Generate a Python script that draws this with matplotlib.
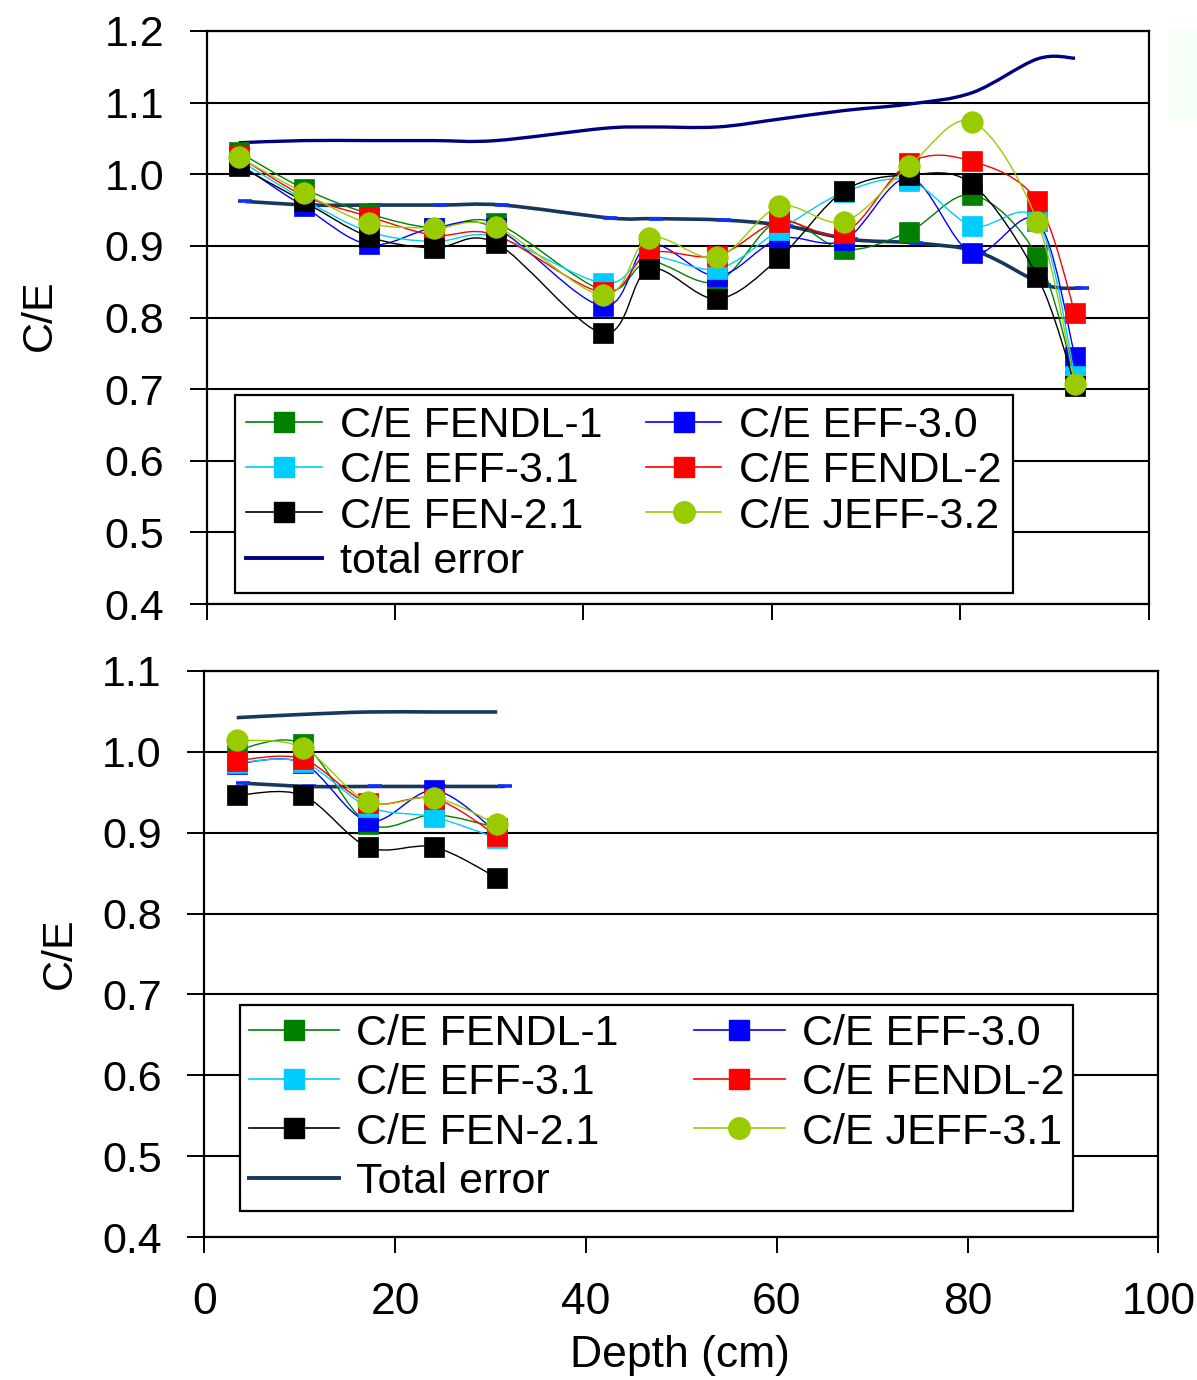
import numpy as np
import matplotlib
matplotlib.use("Agg")
import matplotlib.pyplot as plt
from matplotlib.path import Path
from matplotlib.patches import PathPatch, Rectangle
from matplotlib.lines import Line2D
from matplotlib.ticker import FormatStrFormatter
from matplotlib import font_manager

# ---------------- data ----------------
# upper panel: full-depth assembly
depth_top = [3.4, 10.3, 17.2, 24.1, 30.7, 42.1, 47.0, 54.2, 60.8, 67.7, 74.6, 81.3, 88.2, 92.2]
fendl1_top = [1.031, 0.980, 0.945, 0.925, 0.932, 0.838, 0.878, 0.850, 0.935, 0.895, 0.920, 0.971, 0.885, 0.712]
eff30_top = [1.015, 0.955, 0.902, 0.925, 0.925, 0.816, 0.902, 0.858, 0.910, 0.908, 0.995, 0.890, 0.935, 0.745]
eff31_top = [1.020, 0.965, 0.920, 0.906, 0.913, 0.848, 0.885, 0.868, 0.922, 0.975, 0.991, 0.928, 0.935, 0.718]
fendl2_top = [1.025, 0.970, 0.941, 0.915, 0.915, 0.835, 0.890, 0.886, 0.934, 0.918, 1.016, 1.018, 0.962, 0.806]
fen21_top = [1.012, 0.962, 0.913, 0.897, 0.904, 0.778, 0.868, 0.826, 0.883, 0.977, 0.999, 0.986, 0.857, 0.705]
jeff32_top = [1.024, 0.974, 0.932, 0.925, 0.927, 0.831, 0.911, 0.884, 0.955, 0.934, 1.012, 1.073, 0.934, 0.707]
err_hi_top = [1.044, 1.047, 1.047, 1.047, 1.047, 1.064, 1.066, 1.066, 1.077, 1.089, 1.098, 1.114, 1.161, 1.162]
depth_err_lo_top = [4.1, 11.0, 17.9, 24.8, 31.4, 42.8, 47.7, 54.9, 61.5, 68.4, 75.3, 82.0, 88.9, 92.9]
err_lo_top = [0.962, 0.957, 0.957, 0.957, 0.957, 0.939, 0.938, 0.936, 0.928, 0.909, 0.904, 0.891, 0.846, 0.841]

# lower panel: first five positions
depth_bot = [3.4, 10.3, 17.2, 24.1, 30.7]
fendl1_bot = [1.002, 1.009, 0.911, 0.922, 0.906]
eff30_bot = [0.985, 0.986, 0.914, 0.952, 0.900]
eff31_bot = [0.986, 0.987, 0.932, 0.919, 0.893]
fendl2_bot = [0.989, 0.991, 0.937, 0.942, 0.896]
fen21_bot = [0.946, 0.946, 0.882, 0.882, 0.844]
jeff31_bot = [1.014, 1.005, 0.938, 0.943, 0.910]
err_hi_bot = [1.042, 1.046, 1.049, 1.049, 1.049]
depth_err_lo_bot = [4.1, 11.0, 17.9, 24.6, 31.5]
err_lo_bot = [0.961, 0.957, 0.957, 0.957, 0.957]

labels_top = ["C/E FENDL-1", "C/E EFF-3.0", "C/E EFF-3.1", "C/E FENDL-2", "C/E FEN-2.1", "C/E JEFF-3.2", "total error"]
labels_bot = ["C/E FENDL-1", "C/E EFF-3.0", "C/E EFF-3.1", "C/E FENDL-2", "C/E FEN-2.1", "C/E JEFF-3.1", "Total error"]
x_ticks = [0, 20, 40, 60, 80, 100]

# ---------------- style ----------------
GREEN, BLUE, CYAN, RED, BLACK, LIME = "#008000", "#0000ff", "#00ccff", "#ff0000", "#000000", "#99cc00"
NAVY, SLATE = "#000080", "#17375e"
SERIES_STYLE = [(GREEN, "s"), (BLUE, "s"), (CYAN, "s"), (RED, "s"), (BLACK, "s"), (LIME, "o")]


def pick_font(names):
    for n in names:
        try:
            font_manager.findfont(n, fallback_to_default=False)
            return n
        except Exception:
            continue
    return "DejaVu Sans"


BASE = pick_font(["Liberation Sans", "Arial"])
plt.rcParams["font.family"] = [BASE, "DejaVu Sans"]


def smooth_path(x, y):
    """Cubic Bezier path through the points (spreadsheet-style smoothed line)."""
    pts = np.column_stack([x, y]).astype(float)
    n = len(pts)
    verts = [pts[0]]
    codes = [Path.MOVETO]
    for i in range(n - 1):
        p0 = pts[max(i - 1, 0)]
        p1 = pts[i]
        p2 = pts[i + 1]
        p3 = pts[min(i + 2, n - 1)]
        verts += [p1 + (p2 - p0) / 6.0, p2 - (p3 - p1) / 6.0, p2]
        codes += [Path.CURVE4] * 3
    return Path(verts, codes)


def draw_series(ax, x, y, color, marker, z):
    ax.add_patch(PathPatch(smooth_path(x, y), facecolor="none", edgecolor=color, lw=1.0, zorder=z))
    ms = 15.5 if marker == "o" else 14.4
    ax.plot(x, y, linestyle="none", marker=marker, ms=ms, mfc=color, mec=color, mew=0.5, zorder=z + 0.5)


def style_axes(ax, ymin, ymax, xlabels):
    ax.set_xlim(0, 100)
    ax.set_ylim(ymin, ymax)
    ax.set_yticks(np.round(np.arange(ymin, ymax + 0.001, 0.1), 1))
    ax.yaxis.set_major_formatter(FormatStrFormatter("%.1f"))
    ax.set_xticks(x_ticks)
    ax.grid(axis="y", color="black", lw=1.5, zorder=0.5)
    ax.grid(axis="x", visible=False)
    ax.set_axisbelow(True)
    for sp in ax.spines.values():
        sp.set_linewidth(1.6)
        sp.set_color("black")
        sp.set_zorder(0.6)
    ax.tick_params(axis="y", direction="out", length=12.2, width=1.4, pad=18.5, labelsize=31)
    ax.tick_params(axis="x", direction="out", length=11.5, width=1.4, pad=21, labelsize=32,
                   labelbottom=xlabels)


fig = plt.figure(figsize=(11.97, 13.8), dpi=100)
W, H = 1197.0, 1380.0

# faint tinted strip at the upper right
fig.patches.append(Rectangle((1169 / W, 1 - 120 / H), 28 / W, 90 / H, transform=fig.transFigure,
                             facecolor="#f5fff5", edgecolor="none", zorder=0))

ax1 = fig.add_axes([206.7 / W, 1 - 604 / H, 941.8 / W, 573 / H])
ax2 = fig.add_axes([204.3 / W, 1 - 1237.3 / H, 954 / W, 566.6 / H])

# ---- upper panel ----
top_series = [fendl1_top, eff30_top, eff31_top, fendl2_top, fen21_top, jeff32_top]
for k, (vals, (c, m)) in enumerate(zip(top_series, SERIES_STYLE)):
    draw_series(ax1, depth_top, vals, c, m, 2 + k)
ax1.add_patch(PathPatch(smooth_path(depth_top, err_hi_top), facecolor="none", edgecolor=NAVY, lw=2.4, zorder=1.5))
ax1.add_patch(PathPatch(smooth_path(depth_err_lo_top, err_lo_top), facecolor="none", edgecolor=SLATE, lw=2.6, zorder=1.5))
ax1.plot(depth_err_lo_top, err_lo_top, linestyle="none", marker="_", ms=9.5, mew=2.6, color="#1030ff", zorder=1.6)
style_axes(ax1, 0.4, 1.2, False)

# ---- lower panel ----
bot_series = [fendl1_bot, eff30_bot, eff31_bot, fendl2_bot, fen21_bot, jeff31_bot]
for k, (vals, (c, m)) in enumerate(zip(bot_series, SERIES_STYLE)):
    draw_series(ax2, depth_bot, vals, c, m, 2 + k)
ax2.add_patch(PathPatch(smooth_path(depth_bot, err_hi_bot), facecolor="none", edgecolor=SLATE, lw=2.6, zorder=1.5))
ax2.add_patch(PathPatch(smooth_path(depth_err_lo_bot, err_lo_bot), facecolor="none", edgecolor=SLATE, lw=2.6, zorder=1.5))
ax2.plot(depth_err_lo_bot, err_lo_bot, linestyle="none", marker="_", ms=9.5, mew=2.6, color="#1030ff", zorder=1.6)
style_axes(ax2, 0.4, 1.1, True)


def legend_handles(err_color):
    hs = []
    for c, m in SERIES_STYLE:
        hs.append(Line2D([0], [0], color=c, lw=1.2, marker=m, ms=15.5 if m == "o" else 14.4, mfc=c, mec=c))
    hs.append(Line2D([0], [0], color=err_color, lw=2.8))
    return hs


def place_legend(ax, handles, labels, box_px, fs, hlen, textpad, labelspacing, borderpad):
    """Two-column legend whose frame spans the pixel box (left, top, right)."""
    left, top, right = box_px
    inv = ax.transAxes.inverted()
    (x0, y0), (x1, _) = inv.transform([(left, H - top), (right, H - top)])
    order = [0, 2, 4, 6, 1, 3, 5]
    leg = ax.legend([handles[i] for i in order], [labels[i] for i in order], ncol=2,
                    loc="upper left", bbox_to_anchor=(x0, y0 - 0.3, x1 - x0, 0.3),
                    mode="expand", borderaxespad=0,
                    frameon=True, fancybox=False, shadow=False, framealpha=1,
                    edgecolor="black", fontsize=fs, handlelength=hlen,
                    handletextpad=textpad, columnspacing=1.0,
                    labelspacing=labelspacing, borderpad=borderpad, numpoints=1)
    leg.get_frame().set_linewidth(1.6)
    leg.set_zorder(20)
    return leg


place_legend(ax1, legend_handles(NAVY), labels_top, (235, 395, 1013), 31, 1.75, 0.42, 0.12, 0.26)
place_legend(ax2, legend_handles(SLATE), labels_bot, (240, 1005, 1073), 31, 2.1, 0.4, 0.22, 0.2)

fig.text(40 / W, 1 - 315 / H, "C/E", rotation=90, ha="center", va="center", fontsize=31)
fig.text(60 / W, 1 - 953 / H, "C/E", rotation=90, ha="center", va="center", fontsize=31)
fig.text(680 / W, 1 - 1356 / H, "Depth (cm)", ha="center", va="center", fontsize=32)

fig.savefig("out.png", dpi=100, facecolor="white")
